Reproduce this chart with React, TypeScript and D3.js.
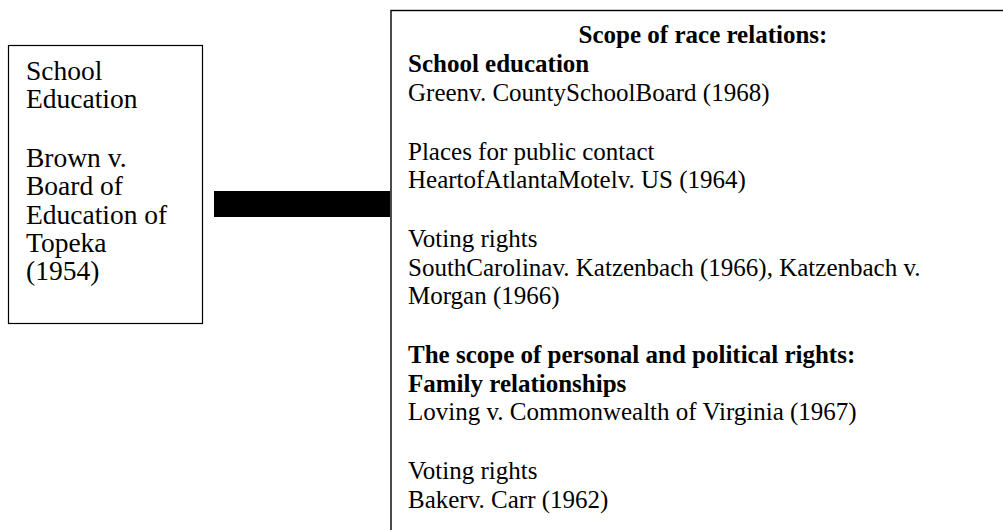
import React, { useEffect, useRef } from 'react'
import * as d3 from 'd3'

// left box text, "" = empty line
const leftLines = ['School', 'Education', '', 'Brown v.', 'Board of', 'Education of', 'Topeka', '(1954)']

const rightTitle = 'Scope of race relations:'
const rightLines = [
  'School education',
  'Greenv. CountySchoolBoard (1968)',
  '',
  'Places for public contact',
  'HeartofAtlantaMotelv. US (1964)',
  '',
  'Voting rights',
  'SouthCarolinav. Katzenbach (1966), Katzenbach v.',
  'Morgan (1966)',
  '',
  'The scope of personal and political rights:',
  'Family relationships',
  'Loving v. Commonwealth of Virginia (1967)',
  '',
  'Voting rights',
  'Bakerv. Carr (1962)',
]
const boldLines = ['School education', 'The scope of personal and political rights:', 'Family relationships']

// turns a list of lines into baselines (a blank line adds a gap)
function layout(lines: string[], start: number, lineH: number, gap: number) {
  const out: { text: string; y: number }[] = []
  let y = start
  let prevBlank = false
  lines.forEach((t, i) => {
    if (t === '') { prevBlank = true; return }
    if (i > 0) y += prevBlank ? gap : lineH
    prevBlank = false
    out.push({ text: t, y })
  })
  return out
}

export default function App() {
  const ref = useRef<HTMLDivElement>(null)

  useEffect(() => {
    const width = 1003
    const height = 530
    const font = '"Liberation Serif", "Times New Roman", serif'

    d3.select(ref.current).selectAll('*').remove()
    const svg = d3.select(ref.current)
      .append('svg')
      .attr('width', width)
      .attr('height', height)
      .style('position', 'absolute')
      .style('left', 0)
      .style('top', 0)
      .style('background', '#fff')

    // left box
    svg.append('rect')
      .attr('x', 8.5).attr('y', 45.5)
      .attr('width', 194).attr('height', 278)
      .attr('fill', 'none').attr('stroke', '#000').attr('stroke-width', 1.2)

    svg.append('g').selectAll('text')
      .data(layout(leftLines, 80, 28.2, 59))
      .enter().append('text')
      .attr('x', 26)
      .attr('y', d => d.y)
      .attr('font-family', font)
      .attr('font-size', 27.5)
      .attr('fill', '#000')
      .text(d => d.text)

    // connector bar
    svg.append('rect')
      .attr('x', 214).attr('y', 191)
      .attr('width', 176).attr('height', 26)
      .attr('fill', '#000')

    // right box, runs off the page on right and bottom
    svg.append('rect')
      .attr('x', 391).attr('y', 10.5)
      .attr('width', 700).attr('height', 600)
      .attr('fill', 'none').attr('stroke', '#000').attr('stroke-width', 1.4)

    svg.append('text')
      .attr('x', 703).attr('y', 43)
      .attr('text-anchor', 'middle')
      .attr('font-family', font)
      .attr('font-size', 25)
      .attr('font-weight', 'bold')
      .text(rightTitle)

    svg.append('g').selectAll('text')
      .data(layout(rightLines, 72, 28.5, 59))
      .enter().append('text')
      .attr('x', 408)
      .attr('y', d => d.y)
      .attr('font-family', font)
      .attr('font-size', 25)
      .attr('font-weight', d => boldLines.includes(d.text) ? 'bold' : 'normal')
      .attr('fill', '#000')
      .text(d => d.text)
  }, [])

  return <div ref={ref}></div>
}
